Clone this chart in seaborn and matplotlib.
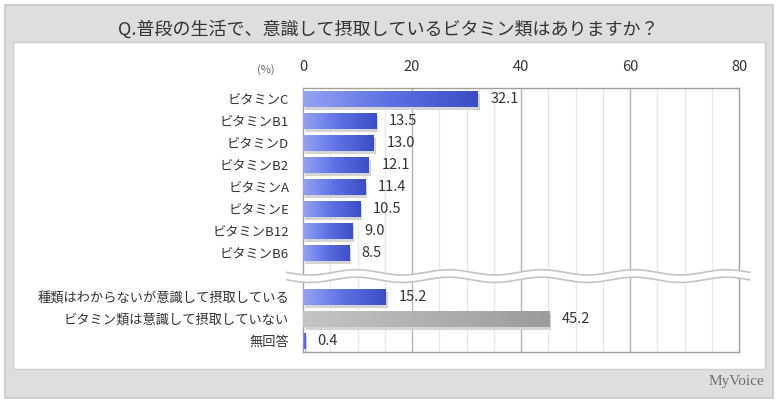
import numpy as np
import pandas as pd
import matplotlib
matplotlib.use("Agg")
import matplotlib.pyplot as plt
import matplotlib.patches as mpatches
from matplotlib.colors import LinearSegmentedColormap
import seaborn as sns

# ---------------- data ----------------
title = "Q.普段の生活で、意識して摂取しているビタミン類はありますか？"
vitamins = ["ビタミンC", "ビタミンB1", "ビタミンD", "ビタミンB2", "ビタミンA",
            "ビタミンE", "ビタミンB12", "ビタミンB6"]
vitamin_values = [32.1, 13.5, 13.0, 12.1, 11.4, 10.5, 9.0, 8.5]
others = ["種類はわからないが意識して摂取している", "ビタミン類は意識して摂取していない", "無回答"]
other_values = [15.2, 45.2, 0.4]
x_ticks = [0, 20, 40, 60, 80]
unit_label = "(%)"
logo = "MyVoice"

sns.set_theme(style="white")
plt.rcParams['font.family'] = ['Noto Sans CJK JP', 'DejaVu Sans']

W, H = 780, 405
fig = plt.figure(figsize=(W / 100, H / 100), dpi=100)
fig.patch.set_facecolor("white")

def fx(px):
    return px / W

def fy(py):
    return 1 - py / H

# outer frame
fig.patches.append(mpatches.Rectangle((fx(5), fy(398)), fx(768), 393 / H,
                                      transform=fig.transFigure, facecolor="#dedede",
                                      edgecolor="#c8c8c8", linewidth=1.2, zorder=-2))
# inner white panel
fig.patches.append(mpatches.Rectangle((fx(13), fy(369)), fx(752), 327 / H,
                                      transform=fig.transFigure, facecolor="white",
                                      edgecolor="#cccccc", linewidth=1, zorder=-1))

fig.text(fx(388), fy(29), title, ha="center", va="center", fontsize=13, color="#333333")
fig.text(fx(736), fy(382), logo, ha="center", va="center", fontsize=11,
         color="#6e6e6e", family="Liberation Serif")

# ---------------- data frame ----------------
spacer = " "
df = pd.DataFrame({
    "item": vitamins + others,
    "value": vitamin_values + other_values,
    "group": ["blue"] * len(vitamins) + ["blue", "grey", "blue"],
})
order = vitamins + [spacer] + others

ax = fig.add_axes([fx(303), fy(352), fx(739 - 303), (352 - 88) / H])
sns.barplot(data=df, x="value", y="item", order=order, hue="group",
            palette={"blue": "#5a6ee0", "grey": "#a8a8a8"}, orient="h",
            width=0.74, legend=False, ax=ax, zorder=3, linewidth=0)

ax.set_xlim(0, 80)
ax.set_ylim(len(order) - 0.5, -0.5)
ax.xaxis.tick_top()
ax.set_xticks(x_ticks)
ax.set_xticklabels([str(t) for t in x_ticks], fontsize=10.5, color="#333333")
ax.tick_params(axis="x", length=0, pad=10)
ax.tick_params(axis="y", length=0, pad=10, labelsize=9.5, labelcolor="#333333")
ax.set_xlabel("")
ax.set_ylabel("")

# grid: major every 20, minor every 5
for v in np.arange(5, 80, 5):
    col = "#b4b4b4" if v % 20 == 0 else "#e8e8e8"
    ax.axvline(v, color=col, linewidth=1, zorder=1)
for s in ax.spines.values():
    s.set_color("#a0a0a0")
    s.set_linewidth(1)

# gradient fill + shadow for bars
blue_cmap = LinearSegmentedColormap.from_list("b", ["#94a2f2", "#5c70e4", "#3c4ec4"])
grey_cmap = LinearSegmentedColormap.from_list("g", ["#c4c4c4", "#b0b0b0", "#9c9c9c"])
for cont in ax.containers:
    for p in cont.patches:
        x0, y0 = p.get_x(), p.get_y()
        w, h = p.get_width(), p.get_height()
        if not np.isfinite(w) or w <= 0:
            continue
        is_grey = abs(w - 45.2) < 1e-6
        # shadow
        sh = mpatches.Rectangle((x0 + 0.35, y0 + 0.12), w, h, facecolor="#d4d4d4",
                                edgecolor="none", zorder=2.5)
        ax.add_patch(sh)
        grad = np.linspace(0, 1, 64).reshape(1, -1)
        im = ax.imshow(grad, cmap=grey_cmap if is_grey else blue_cmap, aspect="auto",
                       extent=(x0, x0 + w, y0 + h, y0), zorder=3.5, interpolation="bicubic")
        im.set_clip_path(p)
    ax.bar_label(cont, fmt="%.1f", padding=9, fontsize=10.5, color="#333333", zorder=5)

ax.set_xlim(0, 80)
ax.set_ylim(len(order) - 0.5, -0.5)

# "(%)" label
fig.text(fx(266), fy(70), unit_label, ha="center", va="center", fontsize=8, color="#666666")

# wavy break across spacer row
brk = order.index(spacer)
xs = np.linspace(-3, 82, 400)
wave = 0.12 * np.sin((xs + 3) / 85 * 2 * np.pi * 5)
ax.fill_between(xs, brk - 0.12 + wave, brk + 0.22 + wave, color="white",
                zorder=6, clip_on=False, linewidth=0)
ax.plot(xs, brk - 0.12 + wave, color="#c4c4c4", lw=1.2, zorder=7, clip_on=False)
ax.plot(xs, brk + 0.22 + wave, color="#c4c4c4", lw=1.2, zorder=7, clip_on=False)

fig.savefig("out.png", dpi=100)
